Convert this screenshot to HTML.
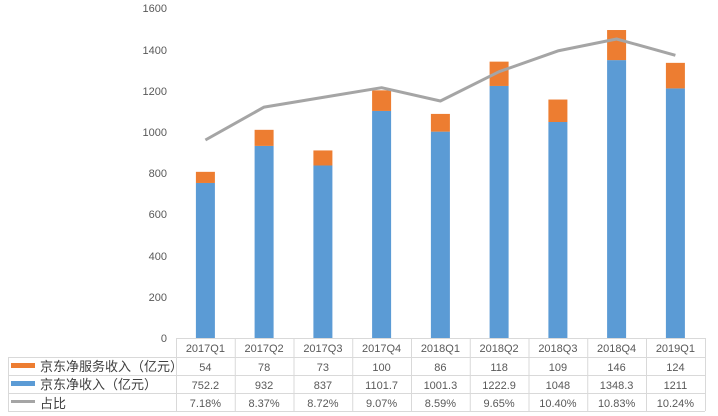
<!DOCTYPE html>
<html><head><meta charset="utf-8"><style>
html,body{margin:0;padding:0;background:#fff;}
svg{display:block;font-family:"Liberation Sans","Noto Sans CJK SC",sans-serif;}
</style></head><body>
<svg width="718" height="416" xmlns="http://www.w3.org/2000/svg">
<g font-size="11" fill="#595959" text-anchor="end">
<text x="167" y="342">0</text>
<text x="167" y="301">200</text>
<text x="167" y="260">400</text>
<text x="167" y="218">600</text>
<text x="167" y="177">800</text>
<text x="167" y="136">1000</text>
<text x="167" y="95">1200</text>
<text x="167" y="54">1400</text>
<text x="167" y="12">1600</text>
</g>
<g fill="#5b9bd5">
<rect x="195.9" y="182.97" width="19" height="155.03"/>
<rect x="254.6" y="145.91" width="19" height="192.09"/>
<rect x="313.4" y="165.49" width="19" height="172.51"/>
<rect x="372.1" y="110.94" width="19" height="227.06"/>
<rect x="430.9" y="131.63" width="19" height="206.37"/>
<rect x="489.6" y="85.96" width="19" height="252.04"/>
<rect x="548.4" y="122" width="19" height="216"/>
<rect x="607.1" y="60.11" width="19" height="277.89"/>
<rect x="665.9" y="88.41" width="19" height="249.59"/>
</g>
<g fill="#ed7d31">
<rect x="195.9" y="171.84" width="19" height="11.13"/>
<rect x="254.6" y="129.83" width="19" height="16.08"/>
<rect x="313.4" y="150.44" width="19" height="15.05"/>
<rect x="372.1" y="90.33" width="19" height="20.61"/>
<rect x="430.9" y="113.91" width="19" height="17.72"/>
<rect x="489.6" y="61.64" width="19" height="24.32"/>
<rect x="548.4" y="99.54" width="19" height="22.46"/>
<rect x="607.1" y="30.02" width="19" height="30.09"/>
<rect x="665.9" y="62.85" width="19" height="25.56"/>
</g>
<g stroke="#d9d9d9" stroke-width="1" fill="none">
<line x1="176" y1="338.5" x2="705" y2="338.5"/>
<line x1="8" y1="357.5" x2="705" y2="357.5"/>
<line x1="8" y1="375.5" x2="705" y2="375.5"/>
<line x1="8" y1="393.5" x2="705" y2="393.5"/>
<line x1="8" y1="411.5" x2="705" y2="411.5"/>
<line x1="8.5" y1="357" x2="8.5" y2="411"/>
<line x1="176.5" y1="338" x2="176.5" y2="411"/>
<line x1="235.25" y1="338" x2="235.25" y2="411"/>
<line x1="294" y1="338" x2="294" y2="411"/>
<line x1="352.75" y1="338" x2="352.75" y2="411"/>
<line x1="411.5" y1="338" x2="411.5" y2="411"/>
<line x1="470.25" y1="338" x2="470.25" y2="411"/>
<line x1="529" y1="338" x2="529" y2="411"/>
<line x1="587.75" y1="338" x2="587.75" y2="411"/>
<line x1="646.5" y1="338" x2="646.5" y2="411"/>
<line x1="705.5" y1="338" x2="705.5" y2="411"/>
</g>
<rect x="11" y="363" width="24" height="5" fill="#ed7d31"/>
<rect x="11" y="381" width="24" height="5" fill="#5b9bd5"/>
<rect x="11" y="400" width="24" height="3" fill="#a5a5a5"/>
<g font-size="13" fill="#404040">
<text x="40" y="371">京东净服务收入（亿元）</text>
<text x="40" y="389">京东净收入（亿元）</text>
<text x="40" y="408">占比</text>
</g>
<g font-size="11" fill="#595959" text-anchor="middle">
<text x="205.4" y="352">2017Q1</text><text x="205.4" y="371">54</text><text x="205.4" y="389">752.2</text><text x="205.4" y="407">7.18%</text>
<text x="264.1" y="352">2017Q2</text><text x="264.1" y="371">78</text><text x="264.1" y="389">932</text><text x="264.1" y="407">8.37%</text>
<text x="322.9" y="352">2017Q3</text><text x="322.9" y="371">73</text><text x="322.9" y="389">837</text><text x="322.9" y="407">8.72%</text>
<text x="381.6" y="352">2017Q4</text><text x="381.6" y="371">100</text><text x="381.6" y="389">1101.7</text><text x="381.6" y="407">9.07%</text>
<text x="440.4" y="352">2018Q1</text><text x="440.4" y="371">86</text><text x="440.4" y="389">1001.3</text><text x="440.4" y="407">8.59%</text>
<text x="499.1" y="352">2018Q2</text><text x="499.1" y="371">118</text><text x="499.1" y="389">1222.9</text><text x="499.1" y="407">9.65%</text>
<text x="557.9" y="352">2018Q3</text><text x="557.9" y="371">109</text><text x="557.9" y="389">1048</text><text x="557.9" y="407">10.40%</text>
<text x="616.6" y="352">2018Q4</text><text x="616.6" y="371">146</text><text x="616.6" y="389">1348.3</text><text x="616.6" y="407">10.83%</text>
<text x="675.4" y="352">2019Q1</text><text x="675.4" y="371">124</text><text x="675.4" y="389">1211</text><text x="675.4" y="407">10.24%</text>
</g>
<polyline fill="none" stroke="#a5a5a5" stroke-width="3" stroke-linejoin="round" points="205.4,140 264.1,107.1 322.9,97.4 381.6,87.7 440.4,101 499.1,71.7 557.9,50.9 616.6,39 675.4,55.3"/>
</svg>
</body></html>
